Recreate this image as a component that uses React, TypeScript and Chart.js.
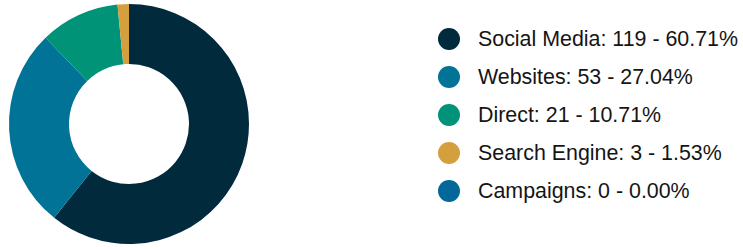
import React, { useEffect, useRef } from "react";
import { Chart, registerables } from "chart.js";

Chart.register(...registerables);

const labels = ["Social Media", "Websites", "Direct", "Search Engine", "Campaigns"];
const values = [119, 53, 21, 3, 0];
const colors = ["#022a3d", "#007396", "#009378", "#d59f3e", "#02689a"];

export default function App() {
  const canvasRef = useRef<HTMLCanvasElement | null>(null);
  const total = values.reduce((a, b) => a + b, 0);

  useEffect(() => {
    document.body.style.margin = "0";
    const ctx = canvasRef.current!.getContext("2d")!;
    const chart = new Chart(ctx, {
      type: "doughnut",
      data: {
        labels,
        datasets: [
          {
            data: values,
            backgroundColor: colors,
            borderWidth: 0,
            hoverOffset: 0,
          },
        ],
      },
      options: {
        animation: false,
        responsive: false,
        cutout: "50%",
        layout: { padding: { top: 4, bottom: 6, left: 9, right: 9 } },
        plugins: {
          legend: { display: false },
          tooltip: { enabled: false },
        },
      },
    });
    return () => chart.destroy();
  }, []);

  return (
    <div style={{ position: "relative", width: 743, height: 250 }}>
      <canvas
        ref={canvasRef}
        width={258}
        height={250}
        style={{ position: "absolute", left: 0, top: 0, width: 258, height: 250 }}
      />
      <div
        style={{
          position: "absolute",
          left: 438,
          top: 20,
          fontFamily: '"Liberation Sans", Arial, sans-serif',
          fontSize: 21.4,
          color: "#151515",
        }}
      >
        {labels.map((l, i) => (
          <div key={l} style={{ display: "flex", alignItems: "center", height: 38 }}>
            <span
              style={{
                display: "inline-block",
                width: 22,
                height: 22,
                borderRadius: "50%",
                background: colors[i],
                marginRight: 18,
                flex: "none",
              }}
            />
            <span style={{ whiteSpace: "nowrap" }}>
              {`${l}: ${values[i]} - ${((values[i] / total) * 100).toFixed(2)}%`}
            </span>
          </div>
        ))}
      </div>
    </div>
  );
}
